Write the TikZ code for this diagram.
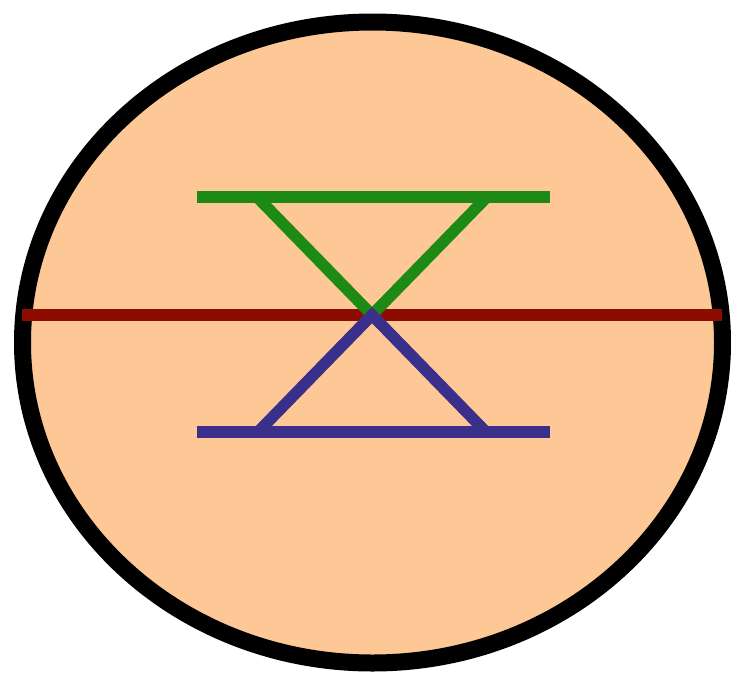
\documentclass[tikz,border=0pt]{standalone}
\definecolor{peach}{RGB}{253,200,150}
\definecolor{dred}{RGB}{140,12,0}
\definecolor{dgreen}{RGB}{28,138,20}
\definecolor{dblue}{RGB}{58,48,140}
\begin{document}
\begin{tikzpicture}[x=1pt,y=-1pt,
  bar/.style={line width=11.5pt},
  outline/.style={line width=17pt,draw=black,fill=peach}]
\useasboundingbox (0,0) rectangle (731,678);
\fill[white] (0,0) rectangle (731,678);
\draw[outline] (372.5,342.5) ellipse [x radius=350,y radius=320.5];
% red horizontal line
\coordinate (rl) at (22,315);
\coordinate (rr) at (722,315);
\draw[bar,draw=dred] (rl) -- (rr);
% green top
\coordinate (gl) at (197,197);
\coordinate (gr) at (550,197);
\coordinate (g1) at (257,197);
\coordinate (g2) at (487,197);
\coordinate (apex) at (372,315);
\draw[bar,draw=dgreen] (gl) -- (gr);
\draw[bar,draw=dgreen] (g1) -- (apex) -- (g2);
% blue bottom
\coordinate (bl) at (197,432);
\coordinate (br) at (550,432);
\coordinate (b1) at (258,432);
\coordinate (b2) at (486,432);
\draw[bar,draw=dblue] (bl) -- (br);
\draw[bar,draw=dblue] (b1) -- (apex) -- (b2);
\end{tikzpicture}
\end{document}
